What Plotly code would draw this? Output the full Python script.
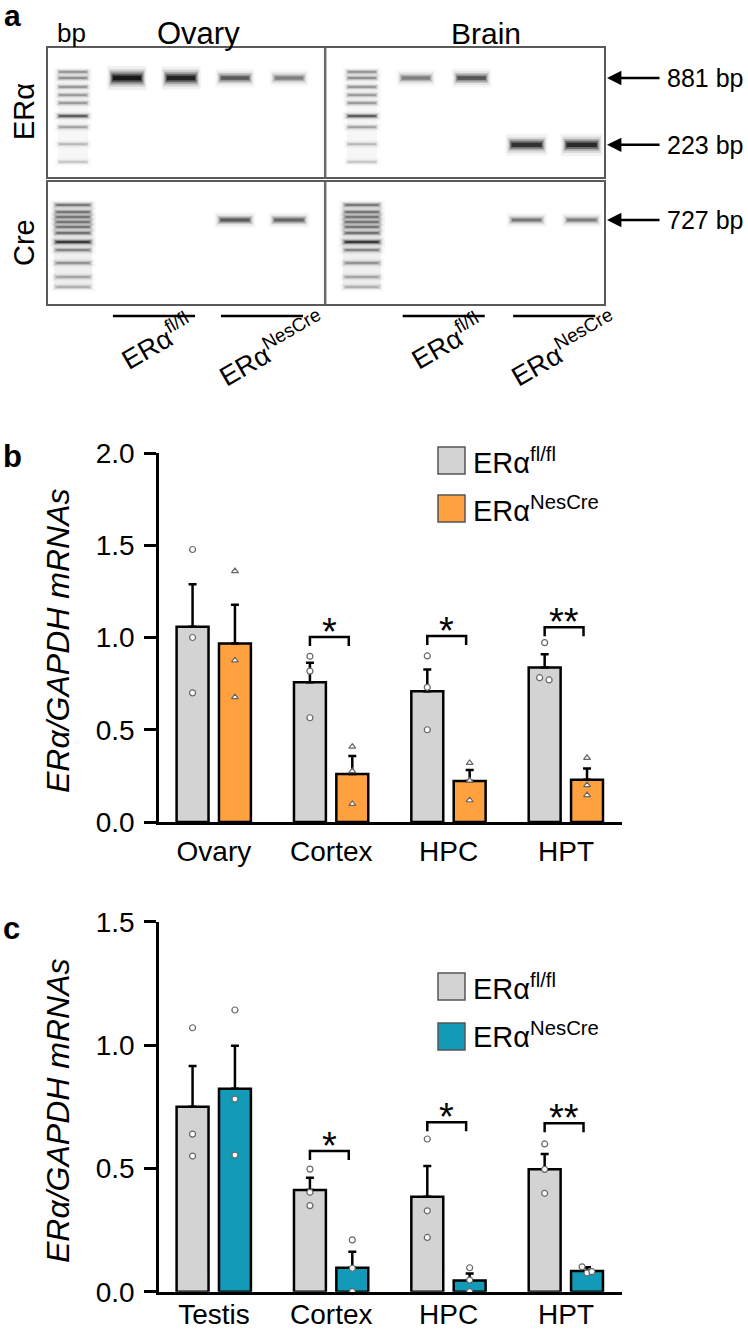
import math
import plotly.graph_objects as go

# ======================= DATA =======================
# ---- Panel a : PCR gel (band intensity 0..1 per sample lane) ----
GEL_SAMPLES = ["Ovary fl/fl", "Ovary fl/fl", "Ovary NesCre", "Ovary NesCre",
               "Brain fl/fl", "Brain fl/fl", "Brain NesCre", "Brain NesCre"]
BAND_881 = [1.00, 0.92, 0.55, 0.40, 0.40, 0.58, 0.00, 0.00]
BAND_223 = [0.00, 0.00, 0.00, 0.00, 0.00, 0.00, 0.80, 0.85]
BAND_727 = [0.00, 0.00, 0.55, 0.50, 0.00, 0.00, 0.42, 0.40]
ERA_LADDER_BP = [998, 881, 733, 621, 527, 403, 321, 226, 157]
ERA_LADDER_INT = [0.30, 0.32, 0.30, 0.28, 0.28, 0.55, 0.24, 0.17, 0.13]
CRE_LADDER_BP = [990, 857, 773, 698, 630, 556, 462, 392, 300, 225, 183]
CRE_LADDER_INT = [0.38, 0.40, 0.40, 0.40, 0.40, 0.42, 0.72, 0.33, 0.28, 0.22, 0.18]
SIZE_LABELS = [("881 bp", 881, "era"), ("223 bp", 223, "era"), ("727 bp", 727, "cre")]

# ---- Panel b ----
CATS_B = ["Ovary", "Cortex", "HPC", "HPT"]
B_FLOX_MEAN = [1.058, 0.757, 0.708, 0.838]
B_FLOX_SEM = [0.231, 0.106, 0.119, 0.071]
B_FLOX_PTS = [[1.477, 1.00, 0.70], [0.898, 0.818, 0.565], [0.90, 0.73, 0.50], [0.972, 0.782, 0.770]]
B_CRE_MEAN = [0.968, 0.260, 0.222, 0.229]
B_CRE_SEM = [0.210, 0.098, 0.060, 0.061]
B_CRE_PTS = [[1.36, 0.876, 0.677], [0.408, 0.276, 0.098], [0.32, 0.225, 0.118], [0.348, 0.200, 0.146]]
B_SIG = ["", "*", "*", "**"]
B_SIG_Y = [None, 1.003, 1.008, 1.055]

# ---- Panel c ----
CATS_C = ["Testis", "Cortex", "HPC", "HPT"]
C_FLOX_MEAN = [0.750, 0.412, 0.385, 0.496]
C_FLOX_SEM = [0.165, 0.050, 0.125, 0.062]
C_FLOX_PTS = [[1.07, 0.639, 0.55], [0.497, 0.403, 0.349], [0.619, 0.328, 0.22], [0.599, 0.496, 0.399]]
C_CRE_MEAN = [0.823, 0.097, 0.045, 0.084]
C_CRE_SEM = [0.174, 0.065, 0.029, 0.015]
C_CRE_PTS = [[1.142, 0.781, 0.554], [0.21, 0.095, 0.0], [0.097, 0.047, 0.0], [0.101, 0.076, 0.081]]
C_SIG = ["", "*", "*", "**"]
C_SIG_Y = [None, 0.570, 0.687, 0.683]

# ======================= LAYOUT CONSTANTS =======================
W, H = 748, 1331
FONT = "Liberation Sans, Arial, Helvetica, sans-serif"
GREY = "#d3d3d3"
ORANGE = "#ffa13e"
TEAL = "#129ab6"
PT_LINE = "#666666"

# jitter (x offsets, category units) for overlapping dots
B_FLOX_JIT = [[0, 0, 0], [0, 0, 0], [0, 0, 0], [0, -0.043, 0.038]]
B_CRE_JIT = [[0, 0, 0]] * 4
C_FLOX_JIT = [[0, 0, 0]] * 4
C_CRE_JIT = [[0, 0, 0], [0, 0, 0], [0, 0, 0], [-0.042, 0, 0.042]]

OFF_FLOX, OFF_CRE, BAR_W = -0.182, 0.179, 0.272

# gel lanes (lane units)
LADDER_X = [0.0, 5.35]
SAMPLE_X = [1.0, 2.0, 3.0, 4.0, 6.35, 7.38, 8.40, 9.42]
DIVIDER_X = 4.67


def fx(p):
    return p / W


def fy(p):
    return 1 - p / H


fig = go.Figure()

BLUR = [(3.0, 0.05, 1.18), (2.2, 0.10, 1.08), (1.6, 0.20, 1.0), (1.1, 0.35, 0.93), (0.6, 0.60, 0.85)]


# ======================= PANEL a : gel =======================
def band(xa, ya, xc, bp, inten, half, thick):
    if inten <= 0:
        return
    for wmul, amul, lmul in BLUR:
        fig.add_trace(go.Scatter(
            x=[xc - half * lmul, xc + half * lmul], y=[bp, bp], mode="lines",
            line=dict(color=f"rgba(0,0,0,{min(1, amul * inten * 1.2):.3f})", width=thick * wmul),
            xaxis=xa, yaxis=ya, hoverinfo="skip", showlegend=False))


def haze(xa, ya, xc, top, bot, width, alpha):
    fig.add_trace(go.Scatter(x=[xc, xc], y=[top, bot], mode="lines",
                             line=dict(color=f"rgba(0,0,0,{alpha})", width=width),
                             xaxis=xa, yaxis=ya, hoverinfo="skip", showlegend=False))


for lx in LADDER_X:
    haze("x3", "y3", lx, 1050, 150, 30, 0.03)
    for bp, it in zip(ERA_LADDER_BP, ERA_LADDER_INT):
        band("x3", "y3", lx, bp, it, 0.30, 3.0)
    haze("x4", "y4", lx, 1050, 175, 38, 0.06)
    for bp, it in zip(CRE_LADDER_BP, CRE_LADDER_INT):
        band("x4", "y4", lx, bp, it, 0.36, 3.2)

for xc, i881, i223, i727 in zip(SAMPLE_X, BAND_881, BAND_223, BAND_727):
    band("x3", "y3", xc, 881, i881, 0.31, 4 + 4 * i881)
    band("x3", "y3", xc, 223, i223, 0.33, 4 + 4 * i223)
    band("x4", "y4", xc, 727, i727, 0.32, 3.5 + 3 * i727)

gel_x = dict(domain=[fx(48), fx(604)], range=[-0.463, 9.833], showline=True, mirror=True,
             linecolor="#5a5a5a", linewidth=1.5, showticklabels=False, ticks="",
             showgrid=False, zeroline=False, fixedrange=True, automargin=False)
gel_y = dict(type="log", showline=True, mirror=True, linecolor="#5a5a5a", linewidth=1.5,
             showticklabels=False, ticks="", showgrid=False, zeroline=False, automargin=False)
fig.update_layout(
    xaxis3=dict(gel_x, anchor="y3"),
    yaxis3=dict(gel_y, domain=[fy(177), fy(48)], range=[2.061, 3.213], anchor="x3"),
    xaxis4=dict(gel_x, anchor="y4"),
    yaxis4=dict(gel_y, domain=[fy(304), fy(182)], range=[2.111, 3.201], anchor="x4"),
)

shapes = []
annotations = []
for xa, ya in [("x3", "y3"), ("x4", "y4")]:
    shapes.append(dict(type="line", xref=xa, yref=ya + " domain", x0=DIVIDER_X, x1=DIVIDER_X,
                       y0=0, y1=1, line=dict(color="#6a6a6a", width=2.5)))

# genotype underlines + rotated labels
groups = [(SAMPLE_X[0], SAMPLE_X[1], "fl/fl"), (SAMPLE_X[2], SAMPLE_X[3], "NesCre"),
          (SAMPLE_X[4], SAMPLE_X[5], "fl/fl"), (SAMPLE_X[6], SAMPLE_X[7], "NesCre")]
for a, b, g in groups:
    c = (a + b) / 2
    shapes.append(dict(type="line", xref="x4", yref="paper", x0=c - 0.76, x1=c + 0.76,
                       y0=fy(316), y1=fy(316), line=dict(color="black", width=2.5)))
    annotations.append(dict(xref="x4", yref="paper", x=c + (0.05 if g == "fl/fl" else 0.17),
                            y=fy(341 if g == "fl/fl" else 348),
                            text=f"ERα<sup>{g}</sup>", showarrow=False, textangle=-30,
                            font=dict(size=27, color="black"), xanchor="center", yanchor="middle"))

# size arrows
for txt, bp, gel in SIZE_LABELS:
    ya = "y3" if gel == "era" else "y4"
    yv = math.log10(bp)
    annotations.append(dict(xref="paper", yref=ya, x=fx(607), y=yv, ax=54, ay=0,
                            text="", showarrow=True,
                            arrowhead=2, arrowsize=1.15, arrowwidth=2.5, arrowcolor="black"))
    annotations.append(dict(xref="paper", yref=ya, x=fx(665), y=yv, text=txt, showarrow=False,
                            xanchor="left", yanchor="middle", font=dict(size=25, color="black")))

annotations += [
    dict(xref="paper", yref="paper", x=fx(2), y=fy(16), text="<b>a</b>", showarrow=False,
         xanchor="left", yanchor="middle", font=dict(size=30, color="black")),
    dict(xref="paper", yref="paper", x=fx(71), y=fy(33), text="bp", showarrow=False,
         xanchor="center", yanchor="middle", font=dict(size=26, color="black")),
    dict(xref="paper", yref="paper", x=fx(198), y=fy(34), text="Ovary", showarrow=False,
         xanchor="center", yanchor="middle", font=dict(size=31, color="black")),
    dict(xref="paper", yref="paper", x=fx(486), y=fy(34), text="Brain", showarrow=False,
         xanchor="center", yanchor="middle", font=dict(size=30, color="black")),
    dict(xref="paper", yref="paper", x=fx(24), y=fy(112), text="ERα", showarrow=False,
         textangle=-90, xanchor="center", yanchor="middle", font=dict(size=29, color="black")),
    dict(xref="paper", yref="paper", x=fx(24), y=fy(243), text="Cre", showarrow=False,
         textangle=-90, xanchor="center", yanchor="middle", font=dict(size=29, color="black")),
]


# ======================= PANELS b & c : bars =======================
def bar_panel(xa, ya, cats, fm, fs, fp, fj, cm, cs, cp, cj, ccol, csym, sig, sigy, px_per_unit):
    n = len(cats)
    fig.add_trace(go.Bar(
        x=[i + OFF_FLOX for i in range(n)], y=fm, width=BAR_W, xaxis=xa, yaxis=ya,
        marker=dict(color=GREY, line=dict(color="black", width=2.5)),
        error_y=dict(type="data", symmetric=False, array=fs, arrayminus=[0] * n,
                     color="black", thickness=2.5, width=4), showlegend=False))
    fig.add_trace(go.Bar(
        x=[i + OFF_CRE for i in range(n)], y=cm, width=BAR_W, xaxis=xa, yaxis=ya,
        marker=dict(color=ccol, line=dict(color="black", width=2.5)),
        error_y=dict(type="data", symmetric=False, array=cs, arrayminus=[0] * n,
                     color="black", thickness=2.5, width=4), showlegend=False))
    for pts, jit, off, sym in [(fp, fj, OFF_FLOX, "circle"), (cp, cj, OFF_CRE, csym)]:
        xs, ys = [], []
        for i, (vals, js) in enumerate(zip(pts, jit)):
            for v, j in zip(vals, js):
                xs.append(i + off + j)
                ys.append(v)
        fig.add_trace(go.Scatter(x=xs, y=ys, mode="markers", xaxis=xa, yaxis=ya, cliponaxis=False,
                                 marker=dict(symbol=sym, size=6, color="white",
                                             line=dict(color=PT_LINE, width=1.2)),
                                 showlegend=False, hoverinfo="skip"))
    leg = 9.0 / px_per_unit
    for i, (s, yv) in enumerate(zip(sig, sigy)):
        if not s:
            continue
        x0, x1 = i + OFF_FLOX, i + OFF_CRE - 0.03
        shapes.append(dict(type="path", xref=xa, yref=ya,
                           path=f"M {x0} {yv - leg} L {x0} {yv} L {x1} {yv} L {x1} {yv - leg}",
                           line=dict(color="black", width=2.5)))
        annotations.append(dict(xref=xa, yref=ya, x=(x0 + x1) / 2, y=yv, text=s, showarrow=False,
                                xanchor="center", yanchor="bottom", yshift=-18,
                                font=dict(size=38, color="black")))


bar_panel("x", "y", CATS_B, B_FLOX_MEAN, B_FLOX_SEM, B_FLOX_PTS, B_FLOX_JIT,
          B_CRE_MEAN, B_CRE_SEM, B_CRE_PTS, B_CRE_JIT, ORANGE, "triangle-up",
          B_SIG, B_SIG_Y, (822 - 453) / 2.0)
bar_panel("x2", "y2", CATS_C, C_FLOX_MEAN, C_FLOX_SEM, C_FLOX_PTS, C_FLOX_JIT,
          C_CRE_MEAN, C_CRE_SEM, C_CRE_PTS, C_CRE_JIT, TEAL, "circle",
          C_SIG, C_SIG_Y, (1291.7 - 921.7) / 1.5)

bar_x = dict(domain=[fx(159), fx(622)], range=[-0.468, 3.477], tickvals=[0, 1, 2, 3],
             showline=True, linecolor="black", linewidth=2.5, ticks="", showgrid=False,
             zeroline=False, tickfont=dict(size=28, color="black"),
             automargin=False)
bar_y = dict(showline=True, linecolor="black", linewidth=2.5, ticks="outside", ticklen=12,
             tickwidth=2.5, tickcolor="black", showgrid=False, zeroline=False, dtick=0.5,
             tickformat=".1f", tickfont=dict(size=28, color="black"), ticklabelstandoff=4,
             automargin=False)
fig.update_layout(
    xaxis=dict(bar_x, anchor="y", ticktext=CATS_B, ticklabelstandoff=3),
    yaxis=dict(bar_y, anchor="x", domain=[fy(822), fy(453)], range=[0, 2.0]),
    xaxis2=dict(bar_x, anchor="y2", ticktext=CATS_C, ticklabelstandoff=-4),
    yaxis2=dict(bar_y, anchor="x2", domain=[fy(1291.7), fy(921.7)], range=[0, 1.5]),
)

# legends, panel labels, y titles
for top, col in [(447, GREY), (495, ORANGE), (973, GREY), (1023, TEAL)]:
    shapes.append(dict(type="rect", xref="paper", yref="paper", x0=fx(438), x1=fx(465),
                       y0=fy(top + 27), y1=fy(top), fillcolor=col,
                       line=dict(color="#555555", width=1.5)))
for yc, sup in [(461, "fl/fl"), (509, "NesCre"), (987, "fl/fl"), (1035, "NesCre")]:
    annotations.append(dict(xref="paper", yref="paper", x=fx(471), y=fy(yc),
                            text=f"ERα<sup>{sup}</sup>", showarrow=False, xanchor="left",
                            yanchor="middle", font=dict(size=29, color="black")))

annotations += [
    dict(xref="paper", yref="paper", x=fx(1), y=fy(456), text="<b>b</b>", showarrow=False,
         xanchor="left", yanchor="middle", font=dict(size=31, color="black")),
    dict(xref="paper", yref="paper", x=fx(1), y=fy(928), text="<b>c</b>", showarrow=False,
         xanchor="left", yanchor="middle", font=dict(size=31, color="black")),
    dict(xref="paper", yref="paper", x=fx(58), y=fy(641), text="<i>ERα/GAPDH mRNAs</i>",
         showarrow=False, textangle=-90, xanchor="center", yanchor="middle",
         font=dict(size=32, color="black")),
    dict(xref="paper", yref="paper", x=fx(58), y=fy(1111), text="<i>ERα/GAPDH mRNAs</i>",
         showarrow=False, textangle=-90, xanchor="center", yanchor="middle",
         font=dict(size=32, color="black")),
]

fig.update_layout(
    width=W, height=H, margin=dict(l=0, r=0, t=0, b=0, autoexpand=False),
    paper_bgcolor="white", plot_bgcolor="white",
    font=dict(family=FONT, color="black"),
    shapes=shapes, annotations=annotations, showlegend=False,
)

fig.write_html("out.html", config={"displayModeBar": False},
               post_script="document.body.style.margin='0';document.body.style.overflow='hidden';")
